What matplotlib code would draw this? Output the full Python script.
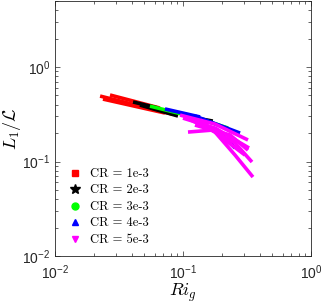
import matplotlib
matplotlib.use("Agg")
import matplotlib.pyplot as plt
from matplotlib.lines import Line2D

plt.rcParams['font.family'] = ['Liberation Sans', 'DejaVu Sans']
plt.rcParams['mathtext.fontset'] = 'custom'
plt.rcParams['mathtext.rm'] = 'Liberation Sans'
plt.rcParams['mathtext.it'] = 'Liberation Sans:italic'

labels = ['CR = 1e-3', 'CR = 2e-3', 'CR = 3e-3', 'CR = 4e-3', 'CR = 5e-3']
colors = ['#ff0000', '#000000', '#00ff00', '#0000ff', '#ff00ff']
markers = ['s', '*', 'o', '^', 'v']

# curves for each CR: lists of (Ri_g values, L1/L values)
red_x = [[0.0225, 0.082], [0.0237, 0.0724], [0.0269, 0.066]]
red_y = [[0.493, 0.318], [0.458, 0.326], [0.506, 0.368]]
black_x = [[0.0407, 0.0639], [0.0461, 0.0914], [0.1135, 0.171]]
black_y = [[0.427, 0.368], [0.396, 0.303], [0.296, 0.268]]
green_x = [[0.0552, 0.098], [0.1037, 0.225]]
green_y = [[0.386, 0.318], [0.318, 0.226]]
blue_x = [[0.0723, 0.136], [0.124, 0.279], [0.178, 0.255]]
blue_y = [[0.360, 0.296], [0.303, 0.200], [0.226, 0.139]]
magenta_x = [[0.0948, 0.178, 0.322], [0.100, 0.178, 0.328],
             [0.1094, 0.1685, 0.255, 0.346], [0.1037, 0.178, 0.255, 0.352],
             [0.136, 0.213, 0.305], [0.124, 0.233, 0.322]]
magenta_y = [[0.310, 0.249, 0.169], [0.288, 0.226, 0.139],
             [0.205, 0.215, 0.157, 0.0988], [0.296, 0.205, 0.117, 0.0685],
             [0.275, 0.169, 0.117], [0.243, 0.191, 0.132]]

series_x = [red_x, black_x, green_x, blue_x, magenta_x]
series_y = [red_y, black_y, green_y, blue_y, magenta_y]

fig = plt.figure(figsize=(3.22, 3.05), dpi=100)
ax = fig.add_axes([55/322, 49/305, 256/322, 255/305])

for xs, ys, c in zip(series_x, series_y, colors):
    for x, y in zip(xs, ys):
        ax.plot(x, y, color=c, lw=2.6, solid_capstyle='butt')

ax.set_xscale('log')
ax.set_yscale('log')
ax.set_xlim(1e-2, 1e0)
ax.set_ylim(1e-2, 5)

edge = '#262626'
for s in ax.spines.values():
    s.set_color(edge)
    s.set_linewidth(0.6)
ax.tick_params(which='both', direction='in', top=True, right=True,
               colors=edge, labelcolor='#262626', labelsize=10, width=0.5)
ax.tick_params(which='major', length=3.5)
ax.tick_params(which='minor', length=2)
ax.tick_params(axis='x', pad=5)

ax.set_xlabel(r'$Ri_g$', fontsize=13, math_fontfamily='cm', labelpad=0)
ax.set_ylabel(r'$L_1/\mathcal{L}$', fontsize=13, math_fontfamily='cm')
ax.yaxis.set_label_coords(-0.125, 0.5)

handles = [Line2D([], [], color=c, marker=m, linestyle='none',
                  markersize=(7 if m == '*' else 5))
           for c, m in zip(colors, markers)]
ax.legend(handles, labels, loc='lower left', bbox_to_anchor=(0.02, 0.01),
          frameon=False, prop={'family': 'cmr10', 'size': 9},
          handlelength=1.2, handletextpad=0.6, labelspacing=0.35,
          borderaxespad=0.2)

fig.savefig('out.png', dpi=100)
